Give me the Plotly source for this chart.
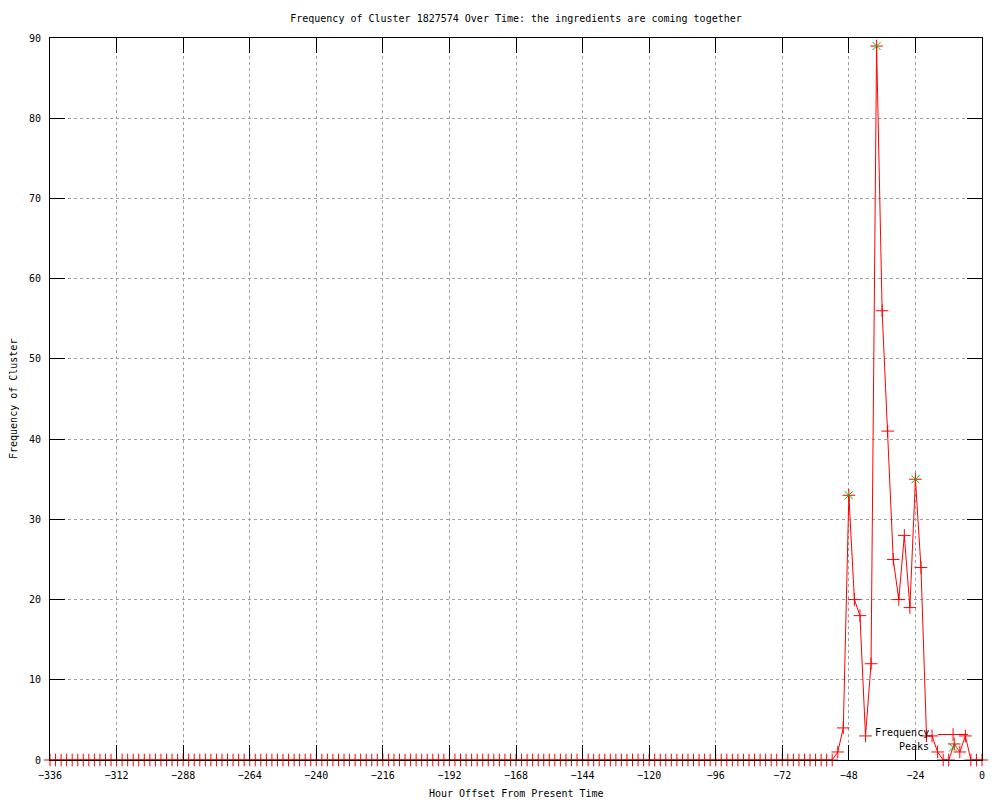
import plotly.graph_objects as go

# ---------------- data ----------------
hours = list(range(-336, 1, 2))  # sample every 2 hours

frequency = [
    0, 0, 0, 0, 0, 0, 0, 0, 0, 0, 0, 0, 0, 0, 0, 0, 0, 0, 0, 0,
    0, 0, 0, 0, 0, 0, 0, 0, 0, 0, 0, 0, 0, 0, 0, 0, 0, 0, 0, 0,
    0, 0, 0, 0, 0, 0, 0, 0, 0, 0, 0, 0, 0, 0, 0, 0, 0, 0, 0, 0,
    0, 0, 0, 0, 0, 0, 0, 0, 0, 0, 0, 0, 0, 0, 0, 0, 0, 0, 0, 0,
    0, 0, 0, 0, 0, 0, 0, 0, 0, 0, 0, 0, 0, 0, 0, 0, 0, 0, 0, 0,
    0, 0, 0, 0, 0, 0, 0, 0, 0, 0, 0, 0, 0, 0, 0, 0, 0, 0, 0, 0,
    0, 0, 0, 0, 0, 0, 0, 0, 0, 0, 0, 0, 0, 0, 0, 0, 0, 0, 0, 0,
    0, 0,
    # -52 .. 0
    1, 4, 33, 20, 18, 3, 12, 89, 56, 41, 25, 20, 28, 19, 35, 24,
    3, 3, 1, 0, 0, 2, 1, 3, 0, 0, 0,
]

peak_hours = [-48, -38, -24]
peak_values = [33, 89, 35]

x_ticks = [-336, -312, -288, -264, -240, -216, -192, -168, -144, -120, -96, -72, -48, -24, 0]
y_ticks = [0, 10, 20, 30, 40, 50, 60, 70, 80, 90]

title_text = "Frequency of Cluster 1827574 Over Time: the ingredients are coming together"
x_title = "Hour Offset From Present Time"
y_title = "Frequency of Cluster"

FONT = "DejaVu Sans Mono"

fig = go.Figure()

fig.add_trace(go.Scatter(
    x=hours, y=frequency, mode="lines+markers", name="",
    line=dict(color="#ff0000", width=1),
    marker=dict(symbol="cross-thin", size=9, color="#ff0000",
                line=dict(color="#ff0000", width=1)),
    cliponaxis=False, legend="legend",
))

fig.add_trace(go.Scatter(
    x=peak_hours, y=peak_values, mode="markers", name="",
    marker=dict(symbol="x-thin", size=8, color="#00c000",
                line=dict(color="#00c000", width=1)),
    cliponaxis=False, legend="legend2",
))

axis_common = dict(
    showline=True, linecolor="black", linewidth=1, mirror="ticks",
    ticks="inside", ticklen=15, tickwidth=1, tickcolor="black",
    showgrid=True, gridcolor="#a0a0a0", gridwidth=1, griddash="dot",
    zeroline=False, tickfont=dict(family=FONT, size=10, color="black"),
)

fig.update_xaxes(range=[-336, 0], tickvals=x_ticks, ticklabelstandoff=6, **axis_common)
fig.update_yaxes(range=[0, 90], tickvals=y_ticks, ticklabelstandoff=6, **axis_common)

fig.update_layout(
    width=1000, height=800,
    margin=dict(l=50, r=18, t=38, b=40),
    paper_bgcolor="white", plot_bgcolor="white",
    font=dict(family=FONT, size=10, color="black"),
    title=dict(text=title_text, x=0.5, xref="paper", y=1 - 18 / 800, yref="container",
               xanchor="center", yanchor="middle",
               font=dict(family=FONT, size=10, color="black")),
    showlegend=True,
    legend=dict(x=0.9475, y=0.0554, xanchor="left", yanchor="top",
                bgcolor="rgba(0,0,0,0)", borderwidth=0, itemwidth=30,
                font=dict(family=FONT, size=8)),
    legend2=dict(x=0.9475, y=0.0374, xanchor="left", yanchor="top",
                 bgcolor="rgba(0,0,0,0)", borderwidth=0, itemwidth=30,
                 font=dict(family=FONT, size=8)),
    annotations=[
        dict(text=x_title, x=0.5, y=0, xref="paper", yref="paper", xanchor="center",
             yanchor="middle", yshift=-33, showarrow=False, font=dict(family=FONT, size=10)),
        dict(text=y_title, x=0, y=0.5, xref="paper", yref="paper", xanchor="center",
             yanchor="middle", xshift=-37, textangle=-90, showarrow=False,
             font=dict(family=FONT, size=10)),
        dict(text="Frequency", x=(931 - 50) / 932, y=(760 - 732) / 722, xref="paper", yref="paper",
             xanchor="right", yanchor="middle", showarrow=False, font=dict(family=FONT, size=10)),
        dict(text="Peaks", x=(931 - 50) / 932, y=(760 - 746) / 722, xref="paper", yref="paper",
             xanchor="right", yanchor="middle", showarrow=False, font=dict(family=FONT, size=10)),
    ],
)

fig.write_html("out.html", config={"displayModeBar": False},
               post_script="document.body.style.margin='0';")
